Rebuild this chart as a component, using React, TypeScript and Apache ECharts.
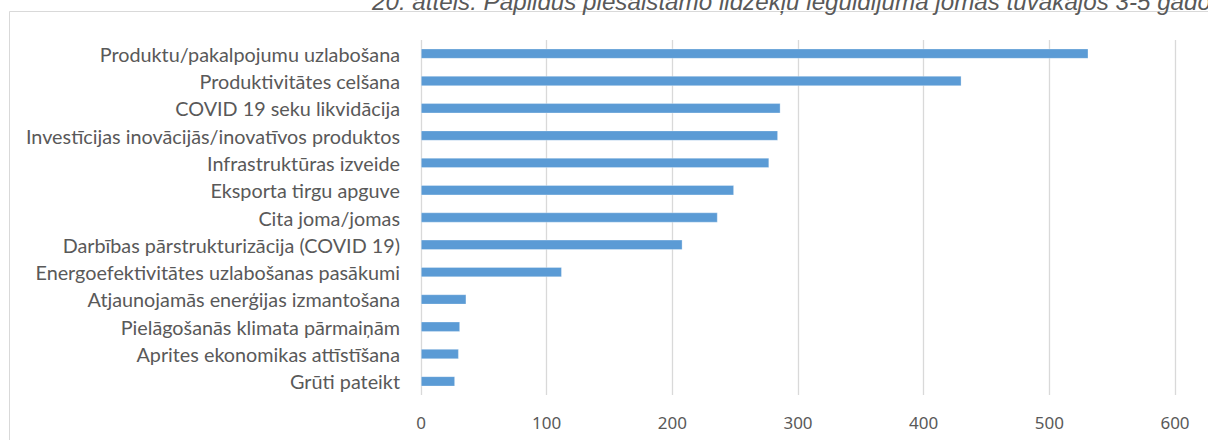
import React, { useEffect, useRef } from "react";
import * as echarts from "echarts";

const categories = [
  "Produktu/pakalpojumu uzlabošana",
  "Produktivitātes celšana",
  "COVID 19 seku likvidācija",
  "Investīcijas inovācijās/inovatīvos produktos",
  "Infrastruktūras izveide",
  "Eksporta tirgu apguve",
  "Cita joma/jomas",
  "Darbības pārstrukturizācija (COVID 19)",
  "Energoefektivitātes uzlabošanas pasākumi",
  "Atjaunojamās enerģijas izmantošana",
  "Pielāgošanās klimata pārmaiņām",
  "Aprites ekonomikas attīstīšana",
  "Grūti pateikt",
];

const values = [531, 430, 286, 284, 277, 249, 236, 208, 112, 36, 31, 30, 27];

const xTicks = { min: 0, max: 600, interval: 100 };

const titleText =
  "20. attēls: Papildus piesaistāmo līdzekļu ieguldījuma jomas tuvākajos 3-5 gados";

export default function App() {
  const ref = useRef<HTMLDivElement>(null);
  useEffect(() => {
    if (!ref.current) return;
    const chart = echarts.init(ref.current, null, { renderer: "svg" });
    chart.setOption({
      animation: false,
      backgroundColor: "#ffffff",
      grid: { left: 421, right: 33, top: 40, bottom: 45 },
      xAxis: {
        type: "value",
        min: xTicks.min,
        max: xTicks.max,
        interval: xTicks.interval,
        axisLine: { show: false },
        axisTick: { show: false },
        splitLine: { show: true, lineStyle: { color: "#d9d9d9", width: 1.3 } },
        axisLabel: {
          color: "#595959",
          fontFamily: "Noto Sans",
          fontSize: 17,
          margin: 19,
        },
      },
      yAxis: {
        type: "category",
        data: categories,
        inverse: true,
        axisLine: { show: false },
        axisTick: { show: false },
        axisLabel: {
          color: "#595959",
          fontFamily: "Lato",
          fontSize: 19.8,
          margin: 21,
        },
      },
      series: [
        {
          type: "bar",
          data: values,
          barWidth: 10,
          itemStyle: {
            color: "#5B9BD5",
            borderColor: "rgba(255,255,255,0.5)",
            borderWidth: 0.6,
          },
        },
      ],
      graphic: [
        {
          type: "rect",
          shape: { x: 9.5, y: 11.5, width: 1400, height: 600 },
          style: { fill: "none", stroke: "#d9d9d9", lineWidth: 1 },
          silent: true,
        },
        {
          type: "text",
          x: 372,
          y: -11,
          style: {
            text: titleText,
            font: 'italic 24.2px "Liberation Sans"',
            fill: "#595959",
            verticalAlign: "top",
            align: "left",
          },
        },
      ],
    });
    return () => chart.dispose();
  }, []);
  return (
    <div
      ref={ref}
      style={{ position: "fixed", left: 0, top: 0, width: 1208, height: 440 }}
    />
  );
}
